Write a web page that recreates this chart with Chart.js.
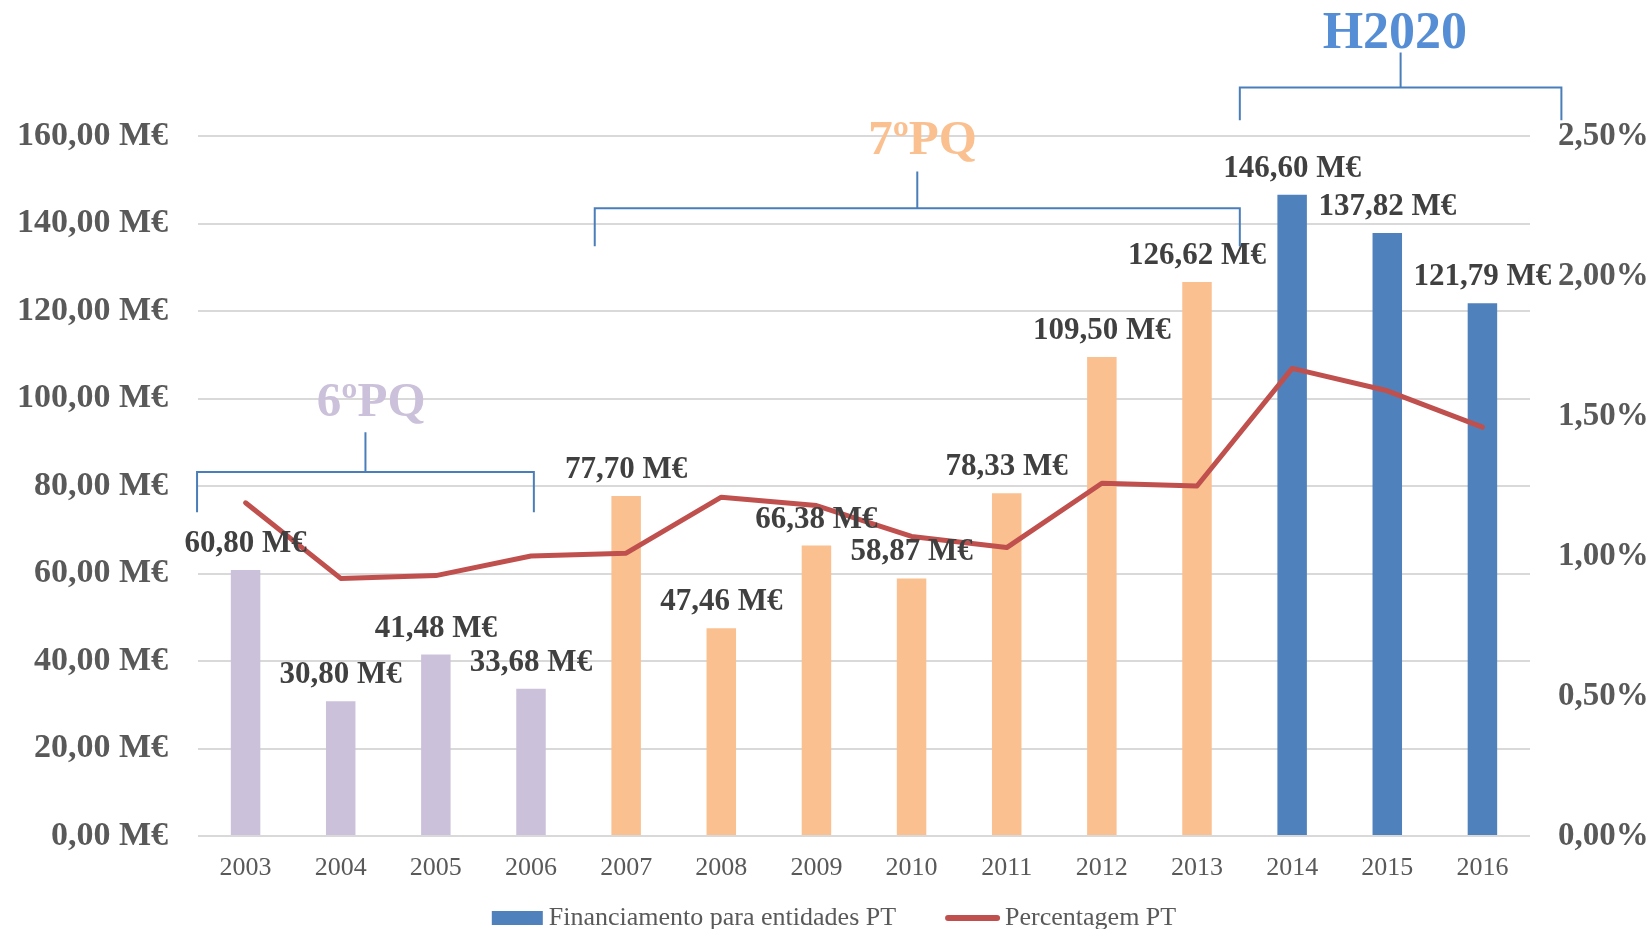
<!DOCTYPE html>
<html><head><meta charset="utf-8">
<script src="https://cdn.jsdelivr.net/npm/chart.js@4/dist/chart.umd.min.js"></script>
<style>html,body{margin:0;padding:0;background:#fff;}canvas{display:block;}</style>
</head><body>
<canvas id="c" width="1648" height="929" style="width:1648px;height:929px"></canvas>
<script>
// ---- data ----
const years = ['2003','2004','2005','2006','2007','2008','2009','2010','2011','2012','2013','2014','2015','2016'];
const funding = [60.80, 30.80, 41.48, 33.68, 77.70, 47.46, 66.38, 58.87, 78.33, 109.50, 126.62, 146.60, 137.82, 121.79];
const percentPT = [1.19, 0.92, 0.93, 1.00, 1.01, 1.21, 1.18, 1.07, 1.03, 1.26, 1.25, 1.67, 1.59, 1.46];
const programmeOfYear = ['6ºPQ','6ºPQ','6ºPQ','6ºPQ','7ºPQ','7ºPQ','7ºPQ','7ºPQ','7ºPQ','7ºPQ','7ºPQ','H2020','H2020','H2020'];
const programmes = ['6ºPQ','7ºPQ','H2020'];
const seriesNames = ['Financiamento para entidades PT','Percentagem PT'];
const leftTicks = [0,20,40,60,80,100,120,140,160];
const rightTicks = [0,0.5,1.0,1.5,2.0,2.5];

// ---- styles ----
const programmeBarColor = {'6ºPQ':'#CCC1DA','7ºPQ':'#FAC090','H2020':'#4F81BD'};
const programmeTextColor = {'6ºPQ':'#CCC1DA','7ºPQ':'#FAC090','H2020':'#558ED5'};
const lineColor = '#C0504D';
const bracketColor = '#4A7EBB';
const FONT = "'Liberation Serif', 'DejaVu Serif', serif";
// bracket geometry, in category-index units (x) and left-axis units (y)
const bracketLayout = {
  '6ºPQ':  {from:-0.51, to:3.03, textX:1.32, textBase:96.1, stemTop:92.3, bar:83.2, tickEnd:74.0, size:49},
  '7ºPQ':  {from:3.67, to:10.45, textX:7.115, textBase:156.0, stemTop:151.9, bar:143.5, tickEnd:134.8, size:49},
  'H2020': {from:10.45, to:13.83, textX:12.08, textBase:180.2, stemTop:179.1, bar:171.1, tickEnd:163.6, size:52}
};

const fmtNum = v => v.toFixed(2).replace('.', ',');

const dataLabels = {
  id: 'dataLabels',
  afterDatasetsDraw(chart) {
    const meta = chart.getDatasetMeta(1);
    const ctx = chart.ctx;
    ctx.save();
    ctx.font = "bold 31px " + FONT;
    ctx.fillStyle = '#404040';
    ctx.textAlign = 'center';
    ctx.textBaseline = 'alphabetic';
    meta.data.forEach((bar, i) => {
      ctx.fillText(fmtNum(funding[i]) + ' M€', bar.x, bar.y - 18);
    });
    ctx.restore();
  }
};

const brackets = {
  id: 'brackets',
  afterDraw(chart) {
    const ctx = chart.ctx;
    const xs = chart.scales.x, ys = chart.scales.y;
    const catW = xs.getPixelForValue(1) - xs.getPixelForValue(0);
    const px = v => xs.getPixelForValue(0) + v * catW;
    ctx.save();
    programmes.forEach(p => {
      const b = bracketLayout[p];
      const x1 = px(b.from), x2 = px(b.to), xm = (x1 + x2) / 2;
      const yBar = ys.getPixelForValue(b.bar);
      ctx.strokeStyle = bracketColor;
      ctx.lineWidth = 2;
      ctx.beginPath();
      ctx.moveTo(x1, ys.getPixelForValue(b.tickEnd));
      ctx.lineTo(x1, yBar);
      ctx.lineTo(x2, yBar);
      ctx.lineTo(x2, ys.getPixelForValue(b.tickEnd));
      ctx.moveTo(xm, yBar);
      ctx.lineTo(xm, ys.getPixelForValue(b.stemTop));
      ctx.stroke();
      ctx.font = "bold " + b.size + "px " + FONT;
      ctx.fillStyle = programmeTextColor[p];
      ctx.textAlign = 'center';
      ctx.textBaseline = 'alphabetic';
      ctx.fillText(p, px(b.textX), ys.getPixelForValue(b.textBase));
    });
    // legend
    ctx.font = "26px " + FONT;
    ctx.fillStyle = '#595959';
    ctx.textBaseline = 'alphabetic';
    ctx.textAlign = 'left';
    const w1 = ctx.measureText(seriesNames[0]).width;
    const w2 = ctx.measureText(seriesNames[1]).width;
    const total = 51 + 6 + w1 + 49 + 55 + 5 + w2;
    let x = 834 - total / 2;
    const base = 925;
    ctx.fillStyle = '#4F81BD';
    ctx.fillRect(x, 911, 51, 14);
    x += 57;
    ctx.fillStyle = '#595959';
    ctx.fillText(seriesNames[0], x, base);
    x += w1 + 49;
    ctx.strokeStyle = lineColor;
    ctx.lineWidth = 6;
    ctx.lineCap = 'round';
    ctx.beginPath();
    ctx.moveTo(x + 3, 918);
    ctx.lineTo(x + 52, 918);
    ctx.stroke();
    x += 60;
    ctx.fillText(seriesNames[1], x, base);
    ctx.restore();
  }
};

new Chart(document.getElementById('c'), {
  data: {
    labels: years,
    datasets: [
      {
        type: 'line',
        label: seriesNames[1],
        data: percentPT,
        yAxisID: 'y1',
        borderColor: lineColor,
        backgroundColor: lineColor,
        borderWidth: 5,
        pointRadius: 0,
        tension: 0,
        borderJoinStyle: 'round',
        borderCapStyle: 'round',
        order: 0
      },
      {
        type: 'bar',
        label: seriesNames[0],
        data: funding,
        yAxisID: 'y',
        backgroundColor: programmeOfYear.map(p => programmeBarColor[p]),
        barPercentage: 0.31,
        categoryPercentage: 1.0,
        order: 1
      }
    ]
  },
  options: {
    responsive: false,
    animation: false,
    devicePixelRatio: 1,
    layout: { padding: { top: 136, bottom: 0, left: 0, right: 0 } },
    plugins: { legend: { display: false }, tooltip: { enabled: false } },
    scales: {
      x: {
        grid: { display: false },
        border: { display: false },
        ticks: { color: '#595959', font: { family: FONT, size: 26 }, padding: 9, maxRotation: 0 },
        afterFit: s => { s.height = 93; }
      },
      y: {
        position: 'left',
        min: 0, max: 160,
        afterBuildTicks: s => { s.ticks = leftTicks.map(v => ({ value: v })); },
        ticks: { color: '#595959', font: { family: FONT, size: 34, weight: 'bold' }, padding: 30,
                 callback: v => fmtNum(v) + ' M€' },
        grid: { color: '#D9D9D9', lineWidth: 2, drawTicks: false },
        border: { display: false },
        afterFit: s => { s.width = 198; }
      },
      y1: {
        position: 'right',
        min: 0, max: 2.5,
        afterBuildTicks: s => { s.ticks = rightTicks.map(v => ({ value: v })); },
        ticks: { color: '#595959', font: { family: FONT, size: 33, weight: 'bold' }, padding: 28,
                 callback: v => fmtNum(v) + '%' },
        grid: { display: false, drawTicks: false },
        border: { display: false },
        afterFit: s => { s.width = 118; }
      }
    }
  },
  plugins: [dataLabels, brackets]
});
</script>
</body></html>
